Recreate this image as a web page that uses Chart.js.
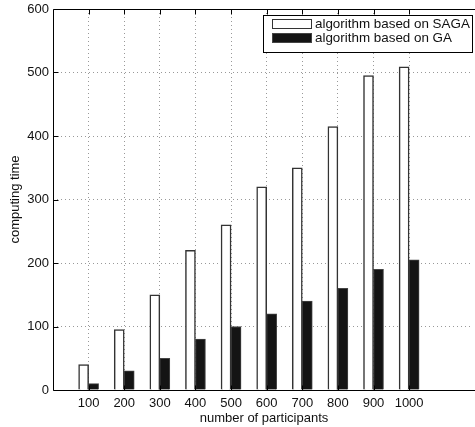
<!DOCTYPE html>
<html><head><meta charset="utf-8">
<script src="https://cdn.jsdelivr.net/npm/chart.js@4"></script>
<style>
html,body{margin:0;padding:0;background:#fff;overflow:hidden;width:475px;height:427px}
#wrap{width:475px;height:427px;position:relative}
</style>
</head><body>
<div id="wrap"><canvas id="c" width="475" height="427" style="width:475px;height:427px"></canvas></div>
<script>
const categories = [100, 200, 300, 400, 500, 600, 700, 800, 900, 1000];
const sagaTimes = [40, 95, 150, 220, 260, 320, 350, 415, 495, 509];
const gaTimes = [10, 30, 50, 80, 100, 120, 140, 160, 190, 205];
const yTicks = [0, 100, 200, 300, 400, 500, 600];
const seriesNames = ['algorithm based on SAGA', 'algorithm based on GA'];
const xTitle = 'number of participants';
const yTitle = 'computing time';

const FONT = 'Liberation Sans, Arial, Helvetica, sans-serif';
Chart.defaults.font.family = FONT;
Chart.defaults.font.size = 13;
Chart.defaults.color = '#111111';

const frame = {
  id: 'frame',
  afterDraw(chart) {
    const {ctx, chartArea: a, scales} = chart;
    ctx.save();
    const L = Math.round(a.left) + 0.5;
    const T = Math.round(a.top) + 0.5, B = Math.round(a.bottom) + 0.5;
    const W = chart.width;
    // keep the right edge open (the reference is cropped there)
    ctx.fillStyle = '#fff';
    ctx.fillRect(W - 3, T + 1, 3, B - T - 2);
    ctx.strokeStyle = '#000';
    ctx.lineWidth = 1;
    ctx.beginPath();
    ctx.moveTo(L, T); ctx.lineTo(W, T);
    ctx.moveTo(L, T); ctx.lineTo(L, B);
    ctx.moveTo(L, B); ctx.lineTo(W, B);
    ctx.stroke();
    const tl = 5;
    ctx.beginPath();
    yTicks.forEach(v => {
      const y = Math.round(scales.y.getPixelForValue(v)) + 0.5;
      ctx.moveTo(L, y); ctx.lineTo(L + tl, y);
    });
    categories.forEach(v => {
      const x = Math.round(scales.x.getPixelForValue(v)) + 0.5;
      ctx.moveTo(x, T); ctx.lineTo(x, T + tl);
      ctx.moveTo(x, B); ctx.lineTo(x, B - tl);
    });
    ctx.stroke();

    const lx = 263, ly = 15, lw = 209, lh = 37;
    ctx.fillStyle = '#fff';
    ctx.fillRect(lx, ly, lw, lh);
    ctx.strokeRect(lx + 0.5, ly + 0.5, lw, lh);
    const ds = chart.data.datasets;
    ctx.font = '13.4px ' + FONT;
    ctx.textBaseline = 'middle';
    ctx.textAlign = 'left';
    [24, 38].forEach((cy, i) => {
      const d = ds[i];
      ctx.fillStyle = d.backgroundColor;
      ctx.fillRect(272, cy - 5, 40, 10);
      ctx.strokeStyle = d.borderColor;
      ctx.lineWidth = 1;
      ctx.strokeRect(272.5, cy - 4.5, 39, 9);
      ctx.fillStyle = '#111111';
      ctx.fillText(d.label, 315, cy + 0.5);
    });
    ctx.restore();
  }
};

new Chart(document.getElementById('c'), {
  type: 'bar',
  plugins: [frame],
  data: {
    datasets: [
      {
        label: seriesNames[0],
        data: categories.map((c, i) => ({x: c, y: sagaTimes[i]})),
        backgroundColor: '#ffffff',
        borderColor: '#333333',
        borderWidth: 1.5,
        barThickness: 10
      },
      {
        label: seriesNames[1],
        data: categories.map((c, i) => ({x: c, y: gaTimes[i]})),
        backgroundColor: '#141414',
        borderColor: '#444444',
        borderWidth: 1,
        barThickness: 10
      }
    ]
  },
  options: {
    responsive: false,
    animation: false,
    layout: {padding: {top: 9, left: 0, right: 0, bottom: 0}},
    plugins: {legend: {display: false}, tooltip: {enabled: false}},
    scales: {
      x: {
        type: 'linear',
        min: 0, max: 1185,
        offset: false,
        afterBuildTicks(scale) { scale.ticks = categories.map(v => ({value: v})); },
        afterFit(scale) { scale.height = 37; scale.paddingLeft = 0; scale.paddingRight = 0; },
        ticks: {autoSkip: false, maxRotation: 0, padding: 6, callback: v => String(v)},
        grid: {offset: false, drawTicks: false, color: '#999999', lineWidth: 1},
        border: {display: false, dash: [1, 3]},
        title: {display: true, text: xTitle, padding: {top: 0, bottom: 1}}
      },
      y: {
        min: 0, max: 600,
        afterBuildTicks(scale) { scale.ticks = yTicks.map(v => ({value: v})); },
        afterFit(scale) { scale.width = 53; scale.paddingTop = 0; scale.paddingBottom = 0; },
        ticks: {padding: 4},
        grid: {
          drawTicks: false,
          color: c => (c.tick && (c.tick.value === 0 || c.tick.value === 600)) ? 'rgba(0,0,0,0)' : '#999999',
          lineWidth: 1
        },
        border: {display: false, dash: [1, 3]},
        title: {display: true, text: yTitle, padding: {top: 8, bottom: 0}}
      }
    }
  }
});
</script>
</body></html>
